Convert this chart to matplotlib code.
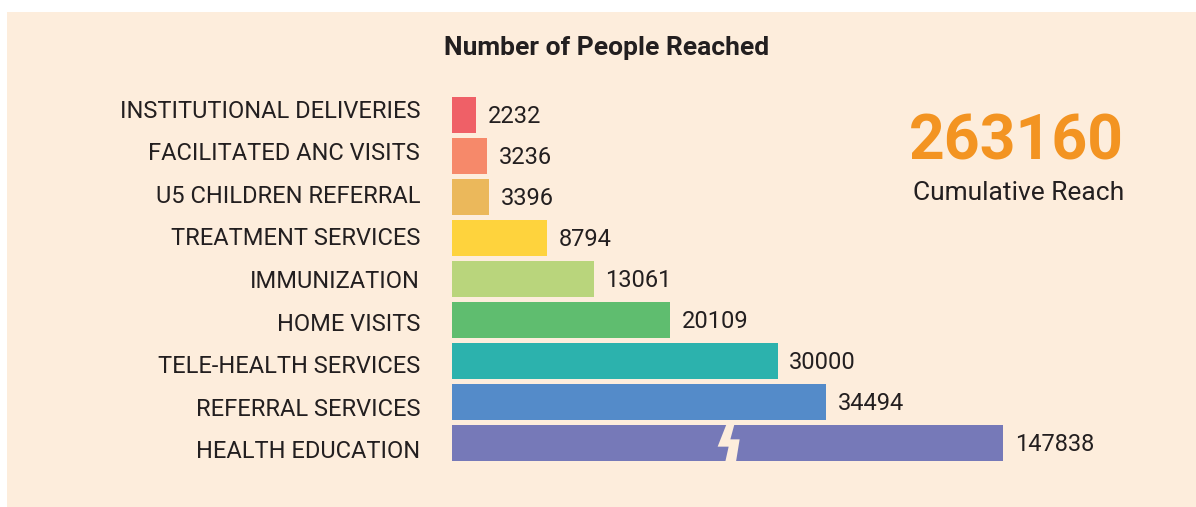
import matplotlib
matplotlib.use("Agg")
import matplotlib.pyplot as plt
from matplotlib.patches import Rectangle, Polygon

# data
categories = ["INSTITUTIONAL DELIVERIES", "FACILITATED ANC VISITS", "U5 CHILDREN REFERRAL",
              "TREATMENT SERVICES", "IMMUNIZATION", "HOME VISITS",
              "TELE-HEALTH SERVICES", "REFERRAL SERVICES", "HEALTH EDUCATION"]
values = [2232, 3236, 3396, 8794, 13061, 20109, 30000, 34494, 147838]
colors = ["#EF6067", "#F6896A", "#EBB85B", "#FED33D", "#B9D57C",
          "#5FBD6F", "#2CB2AD", "#548BC9", "#7679B8"]
total_reach = 263160

BG = "#FDEDDC"
TXT = "#231F20"
cap = 50800  # broken bar is drawn up to this length

plt.rcParams["font.family"] = ["Roboto", "DejaVu Sans"]

fig = plt.figure(figsize=(11.96, 5.07), dpi=100)
fig.patch.set_facecolor("white")
fig.patches.append(Rectangle((7 / 1196, 0), 1 - 7 / 1196, 1 - 12 / 507,
                             transform=fig.transFigure, facecolor=BG,
                             edgecolor="none", zorder=-10))

ax = fig.add_axes([452 / 1196, 1 - 463.5 / 507, 651 / 1196, 369 / 507])
ax.set_facecolor("none")

shown = [min(v, cap) for v in values]
ypos = list(range(len(values)))
ax.barh(ypos, shown, height=0.9, color=colors)
ax.set_xlim(0, 60000)
ax.set_ylim(len(values) - 0.5, -0.5)

for y, v, s in zip(ypos, values, shown):
    ax.annotate(str(v), (s, y), xytext=(8.5, -1), textcoords="offset points",
                ha="left", va="center", fontsize=17, color=TXT)

# break marker on the long bar
px = 60000 / 651
py = 0.45 / 18.7
bx, by = cap * 0.505, ypos[-1]
bolt = [(-4, -18.7), (4, -18.7), (0, -3.7), (9.3, -3.7),
        (5.7, 18.7), (-5, 18.7), (-1.7, 3.7), (-12.7, 3.7)]
ax.add_patch(Polygon([(bx + dx * px, by + dy * py) for dx, dy in bolt],
                     closed=True, facecolor=BG, edgecolor="none"))

# category labels are spaced a little wider than the bars
mid = (len(values) - 1) / 2
ax.set_yticks([mid + (y - mid) * 1.039 for y in ypos])
ax.set_yticklabels(categories, fontsize=17, color=TXT)
ax.tick_params(axis="y", length=0, pad=23)
ax.set_xticks([])
for sp in ax.spines.values():
    sp.set_visible(False)

fig.text(607 / 1196, 1 - 48 / 507, "Number of People Reached", ha="center",
         va="center", fontsize=19, fontweight="bold", color=TXT)
fig.text(1124 / 1196, 1 - 143 / 507, str(total_reach), ha="right", va="center",
         fontsize=45, fontweight="bold", color="#F39422")
fig.text(1124 / 1196, 1 - 193 / 507, "Cumulative Reach", ha="right", va="center",
         fontsize=19, color=TXT)

fig.savefig("out.png", dpi=100, facecolor=fig.get_facecolor())
